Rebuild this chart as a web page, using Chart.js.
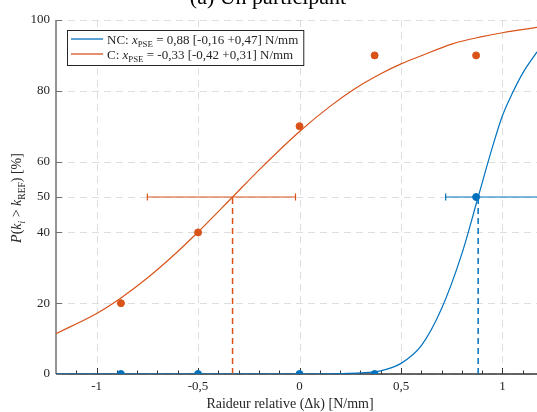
<!DOCTYPE html>
<html>
<head>
<meta charset="utf-8">
<script src="https://cdn.jsdelivr.net/npm/chart.js@4/dist/chart.umd.min.js"></script>
<style>
  html, body { margin: 0; padding: 0; background: #ffffff; }
  #wrap { width: 537px; height: 412px; }
</style>
</head>
<body>
<div id="wrap"><canvas id="psyChart" width="537" height="412"></canvas></div>
<script>
// Stimulus levels (relative stiffness, N/mm) and observed proportions (%)
const stimLevels = [-0.88, -0.5, 0, 0.37, 0.87];
const propNC = [0, 0, 0, 0, 50];
const propC = [20, 40, 70, 90, 90];

// Fitted psychometric curves
const fitXC = [-1.2, -1.0, -0.88, -0.75, -0.6, -0.5, -0.33, -0.2, 0, 0.15, 0.265, 0.4, 0.5, 0.6, 0.75, 0.9, 1.0, 1.17];
const fitYC = [11.4, 17.1, 21.5, 27.1, 34.6, 40.1, 50, 57.6, 68.5, 75.6, 80.3, 84.8, 87.6, 89.9, 93.2, 95.3, 96.4, 97.9];
const fitXNC = [-1.2, 0, 0.2, 0.3, 0.4, 0.5, 0.6, 0.7, 0.8, 0.88, 0.95, 1.0, 1.05, 1.1, 1.17];
const fitYNC = [0, 0, 0.1, 0.3, 0.9, 3.0, 8.0, 18.5, 34, 50, 64, 73, 79.5, 85, 91];

// PSE and confidence bounds
const pseNC = 0.88, ciNC = [-0.16, 0.47];
const pseC = -0.33, ciC = [-0.42, 0.31];

// Axis ticks
const xTicks = [-1, -0.5, 0, 0.5, 1];
const yTicks = [0, 20, 40, 50, 60, 80, 100];

const BLUE = '#0072BD';
const RED = '#D95319';
const SERIF = '"Liberation Serif", "DejaVu Serif", serif';

const toPts = (xs, ys) => xs.map((x, i) => ({ x: x, y: ys[i] }));

// Draw text made of segments (italic / subscript)
function drawRich(ctx, x, y, segs, size) {
    let cx = x;
    segs.forEach(s => {
        const fs = s.sub ? size * 0.68 : size;
        ctx.font = (s.italic ? 'italic ' : '') + fs + 'px ' + SERIF;
        ctx.fillText(s.t, cx, s.sub ? y + size * 0.28 : y);
        cx += ctx.measureText(s.t).width;
    });
    return cx - x;
}
function richWidth(ctx, segs, size) {
    let w = 0;
    segs.forEach(s => {
        const fs = s.sub ? size * 0.68 : size;
        ctx.font = (s.italic ? 'italic ' : '') + fs + 'px ' + SERIF;
        w += ctx.measureText(s.t).width;
    });
    return w;
}

const axesPlugin = {
    id: 'axesPlugin',
    beforeDatasetsDraw(chart) {
        const { ctx, chartArea: a, scales: { x, y } } = chart;
        ctx.save();
        // dashed grid
        ctx.strokeStyle = '#dedede';
        ctx.lineWidth = 1;
        ctx.setLineDash([7, 5]);
        xTicks.forEach(v => {
            const px = Math.round(x.getPixelForValue(v)) + 0.5;
            ctx.beginPath(); ctx.moveTo(px, a.top); ctx.lineTo(px, a.bottom); ctx.stroke();
        });
        yTicks.forEach(v => {
            const py = Math.round(y.getPixelForValue(v)) + 0.5;
            ctx.beginPath(); ctx.moveTo(a.left, py); ctx.lineTo(a.right, py); ctx.stroke();
        });
        ctx.setLineDash([]);
        // axis lines
        ctx.strokeStyle = '#707070';
        ctx.lineWidth = 1.5;
        ctx.beginPath(); ctx.moveTo(a.left, a.top); ctx.lineTo(a.left, a.bottom); ctx.stroke();
        ctx.strokeStyle = '#333333';
        ctx.beginPath(); ctx.moveTo(a.left, a.bottom); ctx.lineTo(a.right, a.bottom); ctx.stroke();
        // inward ticks
        ctx.lineWidth = 1;
        ctx.strokeStyle = '#333333';
        for (let k = -12; k <= 11; k++) {
            const v = k / 10;
            const px = Math.round(x.getPixelForValue(v)) + 0.5;
            if (px < a.left + 1 || px > a.right) continue;
            const len = (k % 5 === 0) ? 6 : 3.5;
            ctx.beginPath(); ctx.moveTo(px, a.bottom); ctx.lineTo(px, a.bottom - len); ctx.stroke();
        }
        ctx.strokeStyle = '#707070';
        yTicks.forEach(v => {
            const py = Math.round(y.getPixelForValue(v)) + 0.5;
            ctx.beginPath(); ctx.moveTo(a.left, py); ctx.lineTo(a.left + 6, py); ctx.stroke();
        });
        ctx.restore();
    },
    afterDatasetsDraw(chart) {
        const { ctx } = chart;
        ctx.save();
        ctx.fillStyle = '#262626';
        ctx.textBaseline = 'alphabetic';

        // legend
        const size = 13;
        const rowNC = [
            { t: 'NC: ' }, { t: 'x', italic: true }, { t: 'PSE', sub: true },
            { t: ' = 0,88 [-0,16 +0,47] N/mm' }
        ];
        const rowC = [
            { t: 'C: ' }, { t: 'x', italic: true }, { t: 'PSE', sub: true },
            { t: ' = -0,33 [-0,42 +0,31] N/mm' }
        ];
        const lx = 67, ly = 30;
        const tw = Math.max(richWidth(ctx, rowNC, size), richWidth(ctx, rowC, size));
        const lw = 40 + tw + 5, lh = 35;
        ctx.fillStyle = '#ffffff';
        ctx.fillRect(lx, ly, lw, lh);
        ctx.strokeStyle = '#262626';
        ctx.lineWidth = 1;
        ctx.strokeRect(lx + 0.5, ly + 0.5, lw, lh);
        [[rowNC, BLUE, 39], [rowC, RED, 54]].forEach(([segs, col, yy]) => {
            ctx.strokeStyle = col;
            ctx.lineWidth = 1.3;
            ctx.beginPath(); ctx.moveTo(lx + 4, yy); ctx.lineTo(lx + 36, yy); ctx.stroke();
            ctx.fillStyle = '#262626';
            drawRich(ctx, lx + 40, yy + 4.5, segs, size);
        });

        // x axis title
        ctx.fillStyle = '#262626';
        ctx.font = '14px ' + SERIF;
        ctx.textAlign = 'center';
        ctx.fillText('Raideur relative (Δk) [N/mm]', 290, 408);

        // y axis title (rotated, with subscripts)
        const ySegs = [
            { t: 'P', italic: true }, { t: '(' }, { t: 'k', italic: true }, { t: 'i', italic: true, sub: true },
            { t: ' > ' }, { t: 'k', italic: true }, { t: 'REF', sub: true }, { t: ') [%]' }
        ];
        ctx.textAlign = 'left';
        const yw = richWidth(ctx, ySegs, 14);
        ctx.translate(21, 198);
        ctx.rotate(-Math.PI / 2);
        drawRich(ctx, -yw / 2, 0, ySegs, 14);
        ctx.setTransform(1, 0, 0, 1, 0, 0);

        // title, mostly cut off at the top
        ctx.font = '22px ' + SERIF;
        ctx.textAlign = 'center';
        ctx.fillStyle = '#000000';
        ctx.fillText('(a) Un participant', 268, 4);
        ctx.restore();
    }
};

function errorBar(pse, ci, col) {
    return {
        type: 'line',
        data: [{ x: pse + ci[0], y: 50 }, { x: pse + ci[1], y: 50 }],
        borderColor: col,
        borderWidth: 1.2,
        pointStyle: 'line',
        rotation: 90,
        pointRadius: 3.5,
        pointBorderColor: col,
        pointBorderWidth: 1.2,
        order: 3
    };
}
function pseLine(pse, col) {
    return {
        type: 'line',
        data: [{ x: pse, y: 0 }, { x: pse, y: 50 }],
        borderColor: col,
        borderWidth: 1.5,
        borderDash: [6, 4],
        pointRadius: 0,
        order: 4
    };
}

new Chart(document.getElementById('psyChart'), {
    type: 'scatter',
    data: {
        datasets: [
            pseLine(pseC, RED),
            pseLine(pseNC, BLUE),
            errorBar(pseC, ciC, RED),
            errorBar(pseNC, ciNC, BLUE),
            {
                type: 'line',
                data: toPts(fitXC, fitYC),
                borderColor: RED,
                borderWidth: 1.2,
                pointRadius: 0,
                cubicInterpolationMode: 'monotone',
                order: 2
            },
            {
                type: 'line',
                data: toPts(fitXNC, fitYNC),
                borderColor: BLUE,
                borderWidth: 1.2,
                pointRadius: 0,
                cubicInterpolationMode: 'monotone',
                order: 2
            },
            {
                data: toPts(stimLevels, propC),
                backgroundColor: RED,
                borderColor: RED,
                pointRadius: 3.5,
                order: 1
            },
            {
                data: toPts(stimLevels, propNC),
                backgroundColor: BLUE,
                borderColor: BLUE,
                pointRadius: 3.5,
                order: 1
            }
        ]
    },
    options: {
        responsive: false,
        animation: false,
        layout: { autoPadding: false, padding: { top: 20, right: 0, left: 0, bottom: 0 } },
        plugins: {
            legend: { display: false },
            tooltip: { enabled: false }
        },
        scales: {
            x: {
                type: 'linear',
                min: -1.2,
                max: 1.17,
                grid: { display: false, drawTicks: false },
                border: { display: false },
                afterBuildTicks: s => { s.ticks = xTicks.map(v => ({ value: v })); },
                afterFit: s => { s.height = 38; s.paddingLeft = 0; s.paddingRight = 0; },
                ticks: {
                    padding: 5,
                    color: '#262626',
                    font: { family: SERIF, size: 13 },
                    callback: v => String(v).replace('.', ',')
                }
            },
            y: {
                min: 0,
                max: 100,
                grid: { display: false, drawTicks: false },
                border: { display: false },
                afterBuildTicks: s => { s.ticks = yTicks.map(v => ({ value: v })); },
                afterFit: s => { s.width = 56; s.paddingTop = 0; s.paddingBottom = 0; },
                ticks: {
                    padding: 6,
                    color: '#262626',
                    font: { family: SERIF, size: 13 }
                }
            }
        }
    },
    plugins: [axesPlugin]
});
</script>
</body>
</html>
